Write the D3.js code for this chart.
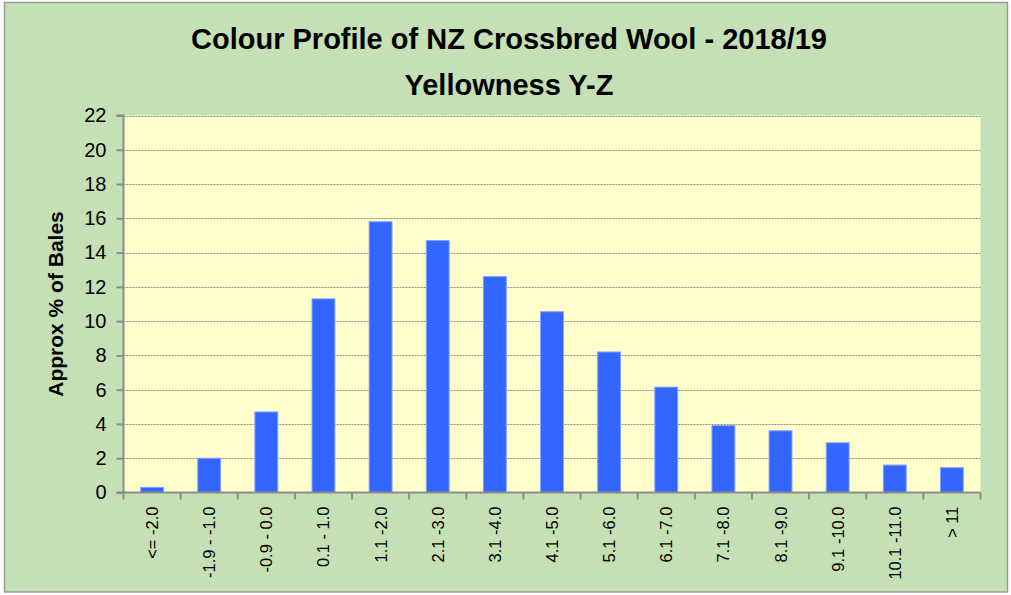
<!DOCTYPE html>
<html>
<head>
<meta charset="utf-8">
<script src="https://cdn.jsdelivr.net/npm/d3@7"></script>
<style>
  html, body { margin: 0; padding: 0; background: #fff; }
  svg { display: block; }
</style>
</head>
<body>
<svg id="chart" width="1011" height="595"></svg>
<script>
const categories = ["<= -2.0", "-1.9 - -1.0", "-0.9 - 0.0", "0.1 - 1.0", "1.1 -2.0", "2.1 -3.0", "3.1 -4.0", "4.1 -5.0", "5.1 -6.0", "6.1 -7.0", "7.1 -8.0", "8.1 -9.0", "9.1 -10.0", "10.1 -11.0", "> 11"];
const values = [0.3, 2.0, 4.7, 11.3, 15.8, 14.7, 12.6, 10.55, 8.2, 6.15, 3.9, 3.6, 2.9, 1.6, 1.45];
const yTicks = [0, 2, 4, 6, 8, 10, 12, 14, 16, 18, 20, 22];
const titleLines = ["Colour Profile of NZ Crossbred Wool - 2018/19", "Yellowness Y-Z"];
const yTitle = "Approx % of Bales";

const svg = d3.select("#chart");
const plot = { left: 123.5, right: 980.5, top: 115.5, bottom: 492.5 };
const narrow = "'Liberation Sans Narrow', 'Liberation Sans', Arial, sans-serif";

// chart background
svg.append("rect").attr("x", 4.5).attr("y", 2.5).attr("width", 1003).attr("height", 589.5)
  .attr("fill", "#c5e0b4").attr("stroke", "#9a9a9a").attr("stroke-width", 1.5);

const x = d3.scaleBand().domain(categories).range([plot.left, plot.right]).paddingInner(0.6).paddingOuter(0.3);
const y = d3.scaleLinear().domain([0, 22]).range([plot.bottom, plot.top]);

// plot area
svg.append("rect").attr("x", plot.left).attr("y", plot.top)
  .attr("width", plot.right - plot.left).attr("height", plot.bottom - plot.top)
  .attr("fill", "#ffffcc");

// gridlines
svg.append("g").selectAll("line").data(yTicks.filter(d => d > 0)).join("line")
  .attr("x1", plot.left).attr("x2", plot.right)
  .attr("y1", d => Math.round(y(d)) + 0.5).attr("y2", d => Math.round(y(d)) + 0.5)
  .attr("stroke", "#8f8f8f").attr("stroke-width", 1).attr("stroke-dasharray", "2,1");

// bars
svg.append("g").selectAll("rect").data(values).join("rect")
  .attr("x", (d, i) => x(categories[i]))
  .attr("y", d => y(d))
  .attr("width", x.bandwidth())
  .attr("height", d => y(0) - y(d))
  .attr("fill", "#3366ff")
  .attr("stroke", "#7f9fff").attr("stroke-width", 1);

// y axis
const yAxis = d3.axisLeft(y).tickValues(yTicks).tickSize(7).tickPadding(10).tickFormat(d3.format("d"));
const gy = svg.append("g").attr("transform", `translate(${plot.left},0)`).call(yAxis);
gy.select(".domain").attr("stroke", "#8c8c8c").attr("stroke-width", 2).attr("d", `M-7,${plot.top}H0V${plot.bottom}`);
gy.selectAll(".tick line").attr("stroke", "#8c8c8c").attr("stroke-width", 2);
gy.selectAll(".tick text").attr("font-family", narrow).attr("font-size", 20).attr("fill", "#000");

// x axis with ticks at category boundaries
const boundaries = d3.range(categories.length + 1).map(i => plot.left + i * (plot.right - plot.left) / categories.length);
const gx = svg.append("g");
gx.append("line").attr("x1", plot.left - 7).attr("x2", plot.right).attr("y1", plot.bottom).attr("y2", plot.bottom)
  .attr("stroke", "#8c8c8c").attr("stroke-width", 2);
gx.selectAll("line.tk").data(boundaries).join("line").attr("class", "tk")
  .attr("x1", d => d).attr("x2", d => d).attr("y1", plot.bottom).attr("y2", plot.bottom + 7)
  .attr("stroke", "#8c8c8c").attr("stroke-width", 2);
gx.selectAll("text").data(categories).join("text")
  .attr("transform", d => `translate(${x(d) + x.bandwidth() / 2 + 6},${plot.bottom + 14}) rotate(-90)`)
  .attr("text-anchor", "end")
  .attr("font-family", "'Liberation Sans', Arial, sans-serif")
  .attr("font-size", 16.5).attr("fill", "#000")
  .text(d => d);

// y title
svg.append("text")
  .attr("transform", `translate(63,304) rotate(-90)`)
  .attr("text-anchor", "middle")
  .attr("font-family", narrow).attr("font-weight", "bold").attr("font-size", 21)
  .attr("fill", "#000").text(yTitle);

// title
svg.append("g").selectAll("text").data(titleLines).join("text")
  .attr("x", 509).attr("y", (d, i) => 49 + i * 46)
  .attr("text-anchor", "middle")
  .attr("font-family", narrow).attr("font-weight", "bold").attr("font-size", 29)
  .attr("fill", "#000").text(d => d);
</script>
</body>
</html>
